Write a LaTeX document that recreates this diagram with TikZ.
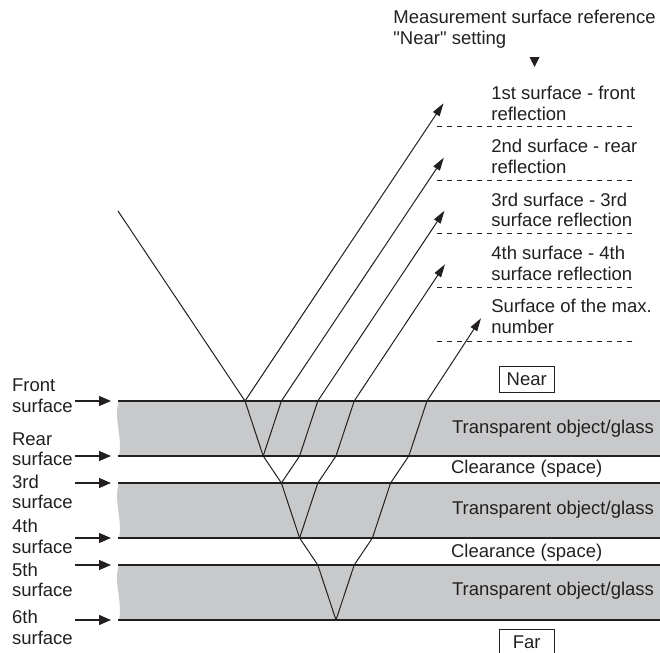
\documentclass[tikz,border=0pt]{standalone}
\usepackage{fontspec}
\setmainfont{Liberation Sans}
\newfontfamily\labelfont{Liberation Sans}
\usetikzlibrary{arrows.meta}
\definecolor{ink}{HTML}{231F20}
\definecolor{glass}{HTML}{C8C9CB}
\tikzset{
  lbl/.style    = {font=\labelfont\fontsize{9.25}{10.2}\selectfont, text=ink, inner sep=0pt,
                   align=left, anchor=west},
  tag/.style    = {draw=ink, line width=0.5pt, font=\labelfont\fontsize{9.25}{10.2}\selectfont,
                   text=ink, minimum width=27.3pt, minimum height=13.3pt, inner sep=0pt},
  surf/.style   = {draw=ink, line width=0.8pt},
  glassfill/.style = {fill=glass},
  ray/.style    = {draw=ink, line width=0.5pt, line join=round},
  rayout/.style = {ray, -{Triangle[length=6.5pt,width=3.8pt]}},
  pointer/.style = {draw=ink, line width=0.6pt, -{Triangle[length=6pt,width=5pt]}},
  guide/.style  = {draw=ink, line width=0.5pt, dash pattern=on 2.5pt off 2.5pt},
}

\begin{document}
\begin{tikzpicture}[x=0.5pt, y=-0.5pt]
  \useasboundingbox (0,0) rectangle (660,653);

  % glass plates
  \foreach \t/\b in {401/456, 483/538, 565/620}
    \fill[glassfill] (119,\t) .. controls (113,\t+17) and (123,\t+37) .. (119,\b)
                     -- (660,\b) -- (660,\t) -- cycle;
  \foreach \y in {401,456,483,538,565,620}
    \draw[surf] (118,\y) -- (660,\y);

  % header
  \node[lbl] (head) at (393,29.2) {Measurement surface reference\\"Near" setting};
  \fill[ink] (529.5,57) -- (539.5,57) -- (534.5,67) -- cycle;

  % reflection labels
  \node[lbl] (r1) at (491,103.2) {1st surface - front\\reflection};
  \node[lbl] (r2) at (491,156.2) {2nd surface - rear\\reflection};
  \node[lbl] (r3) at (491,209.7) {3rd surface - 3rd\\surface reflection};
  \node[lbl] (r4) at (491,263.3) {4th surface - 4th\\surface reflection};
  \node[lbl] (r5) at (491,316.3) {Surface of the max.\\number};
  \foreach \y in {126,180,233.3,287.3,341.7}
    \draw[guide] (437,\y) -- (637,\y);

  % layer labels
  \node[tag] (near) at (526.7,379.3) {Near};
  \node[tag] (far) at (526.7,642.7) {Far};
  \node[lbl] (g1) at (451.7,428.3) {Transparent object/glass};
  \node[lbl] (c1) at (450.7,468.3) {Clearance (space)};
  \node[lbl] (g2) at (451.7,510) {Transparent object/glass};
  \node[lbl] (c2) at (450.7,552.7) {Clearance (space)};
  \node[lbl] (g3) at (451.7,590.7) {Transparent object/glass};

  % surface names
  \node[lbl] (s1) at (11.7,395.8) {Front\\surface};
  \node[lbl] (s2) at (11.7,449.2) {Rear\\surface};
  \node[lbl] (s3) at (11.7,491.8) {3rd\\surface};
  \node[lbl] (s4) at (11.7,536.2) {4th\\surface};
  \node[lbl] (s5) at (11.7,580) {5th\\surface};
  \node[lbl] (s6) at (11.7,627.5) {6th\\surface};
  \foreach \i/\y in {1/401, 2/456, 3/483, 4/538, 5/565, 6/620} {
    \coordinate (a\i) at (75,\y);
    \coordinate (b\i) at (111,\y);
    \draw[pointer] (a\i) -- (b\i);
  }

  % beam path
  \coordinate (src) at (118,211);
  \coordinate (d1) at (245,401);
  \coordinate (d2) at (263.2,456);
  \coordinate (d3) at (281.4,483);
  \coordinate (d4) at (299.6,538);
  \coordinate (d5) at (317.8,565);
  \coordinate (d6) at (336,620);
  \coordinate (t1) at (443.5,103.3);
  \coordinate (t2) at (443.8,157.7);
  \coordinate (t3) at (444.5,210.7);
  \coordinate (t4) at (445,264.3);
  \coordinate (t5) at (481,318.3);

  \draw[ray] (src) -- (d1) -- (d2) -- (d3) -- (d4) -- (d5) -- (d6);
  \draw[rayout] (d1) -- (t1);
  \draw[rayout] (d2) -- (281.4,401) -- (t2);
  \draw[rayout] (d3) -- (299.6,456) -- (317.8,401) -- (t3);
  \draw[rayout] (d4) -- (317.8,483) -- (336,456) -- (354.2,401) -- (t4);
  \draw[rayout] (d6) -- (354.2,565) -- (372.4,538) -- (390.6,483)
                -- (408.8,456) -- (427,401) -- (t5);
\end{tikzpicture}
\end{document}
